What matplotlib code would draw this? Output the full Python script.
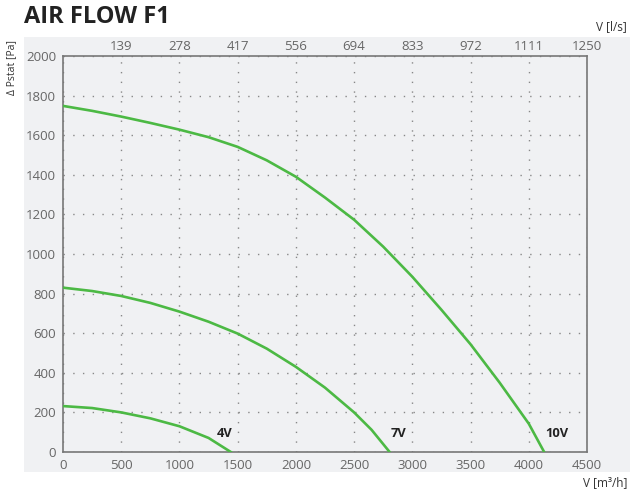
import matplotlib.pyplot as plt

plt.rcParams['font.family'] = ['Open Sans', 'DejaVu Sans']

# flow [m3/h] and static pressure [Pa] for each control voltage
flow_10v = [0, 250, 500, 750, 1000, 1250, 1500, 1750, 2000, 2250, 2500, 2750, 3000,
            3250, 3500, 3750, 4000, 4132]
pres_10v = [1748, 1723, 1694, 1662, 1628, 1590, 1541, 1473, 1390, 1285, 1173, 1037, 885,
            718, 544, 350, 143, 0]
flow_7v = [0, 250, 500, 750, 1000, 1250, 1500, 1750, 2000, 2250, 2500, 2650, 2805]
pres_7v = [830, 813, 788, 753, 709, 658, 598, 522, 430, 325, 200, 112, 0]
flow_4v = [0, 250, 500, 750, 1000, 1250, 1441]
pres_4v = [232, 222, 200, 170, 130, 71, 0]

curve_labels = ['4V', '7V', '10V']
label_x = [1320, 2810, 4140]

x_ticks = [0, 500, 1000, 1500, 2000, 2500, 3000, 3500, 4000, 4500]
y_ticks = [0, 200, 400, 600, 800, 1000, 1200, 1400, 1600, 1800, 2000]

green = '#4cb944'
grey_txt = '#666666'
panel = '#f0f1f3'

fig = plt.figure(figsize=(6.3, 4.95), dpi=100)

# grey panel behind the chart
bg = fig.add_axes([24 / 630, 1 - 472 / 495, 606 / 630, 435 / 495])
bg.set_facecolor(panel)
bg.set_xticks([])
bg.set_yticks([])
for s in bg.spines.values():
    s.set_visible(False)

ax = fig.add_axes([63 / 630, 1 - 452 / 495, 524 / 630, 396 / 495])
ax.set_facecolor(panel)

for fx, py in [(flow_10v, pres_10v), (flow_7v, pres_7v), (flow_4v, pres_4v)]:
    ax.plot(fx, py, color=green, lw=1.9, solid_joinstyle='round', zorder=3)

for lab, lx in zip(curve_labels, label_x):
    ax.text(lx, 92, lab, fontsize=9.3, fontweight='bold', color='#222222', ha='left', va='center')

ax.set_xlim(0, 4500)
ax.set_ylim(0, 2000)
ax.set_xticks(x_ticks)
ax.set_yticks(y_ticks)
ax.tick_params(length=0, labelsize=9.5, labelcolor=grey_txt, pad=5)
ax.grid(True, linestyle=(0, (1, 6)), color='#888888', lw=1.0)
for s in ax.spines.values():
    s.set_color('#777777')
    s.set_linewidth(1.2)

# top axis in l/s
top = ax.secondary_xaxis('top')
top.set_xticks(x_ticks[1:])
top.set_xticklabels([str(round(v / 3.6)) for v in x_ticks[1:]])
top.tick_params(length=0, labelsize=9.5, labelcolor=grey_txt, pad=2)
top.spines['top'].set_visible(False)

fig.text(24 / 630, 1 - 17 / 495, 'AIR FLOW F1', fontsize=17, fontweight='bold',
         color='#222222', ha='left', va='center')
fig.text(627 / 630, 1 - 27 / 495, 'V [l/s]', fontsize=8.5, color='#333333', ha='right', va='center')
fig.text(627 / 630, 1 - 483 / 495, 'V [m³/h]', fontsize=8.5, color='#333333', ha='right', va='center')
fig.text(12 / 630, 1 - 40 / 495, 'Δ Pstat [Pa]', fontsize=7.5, color='#333333',
         rotation=90, ha='center', va='top')

fig.savefig('out.png', dpi=100)
